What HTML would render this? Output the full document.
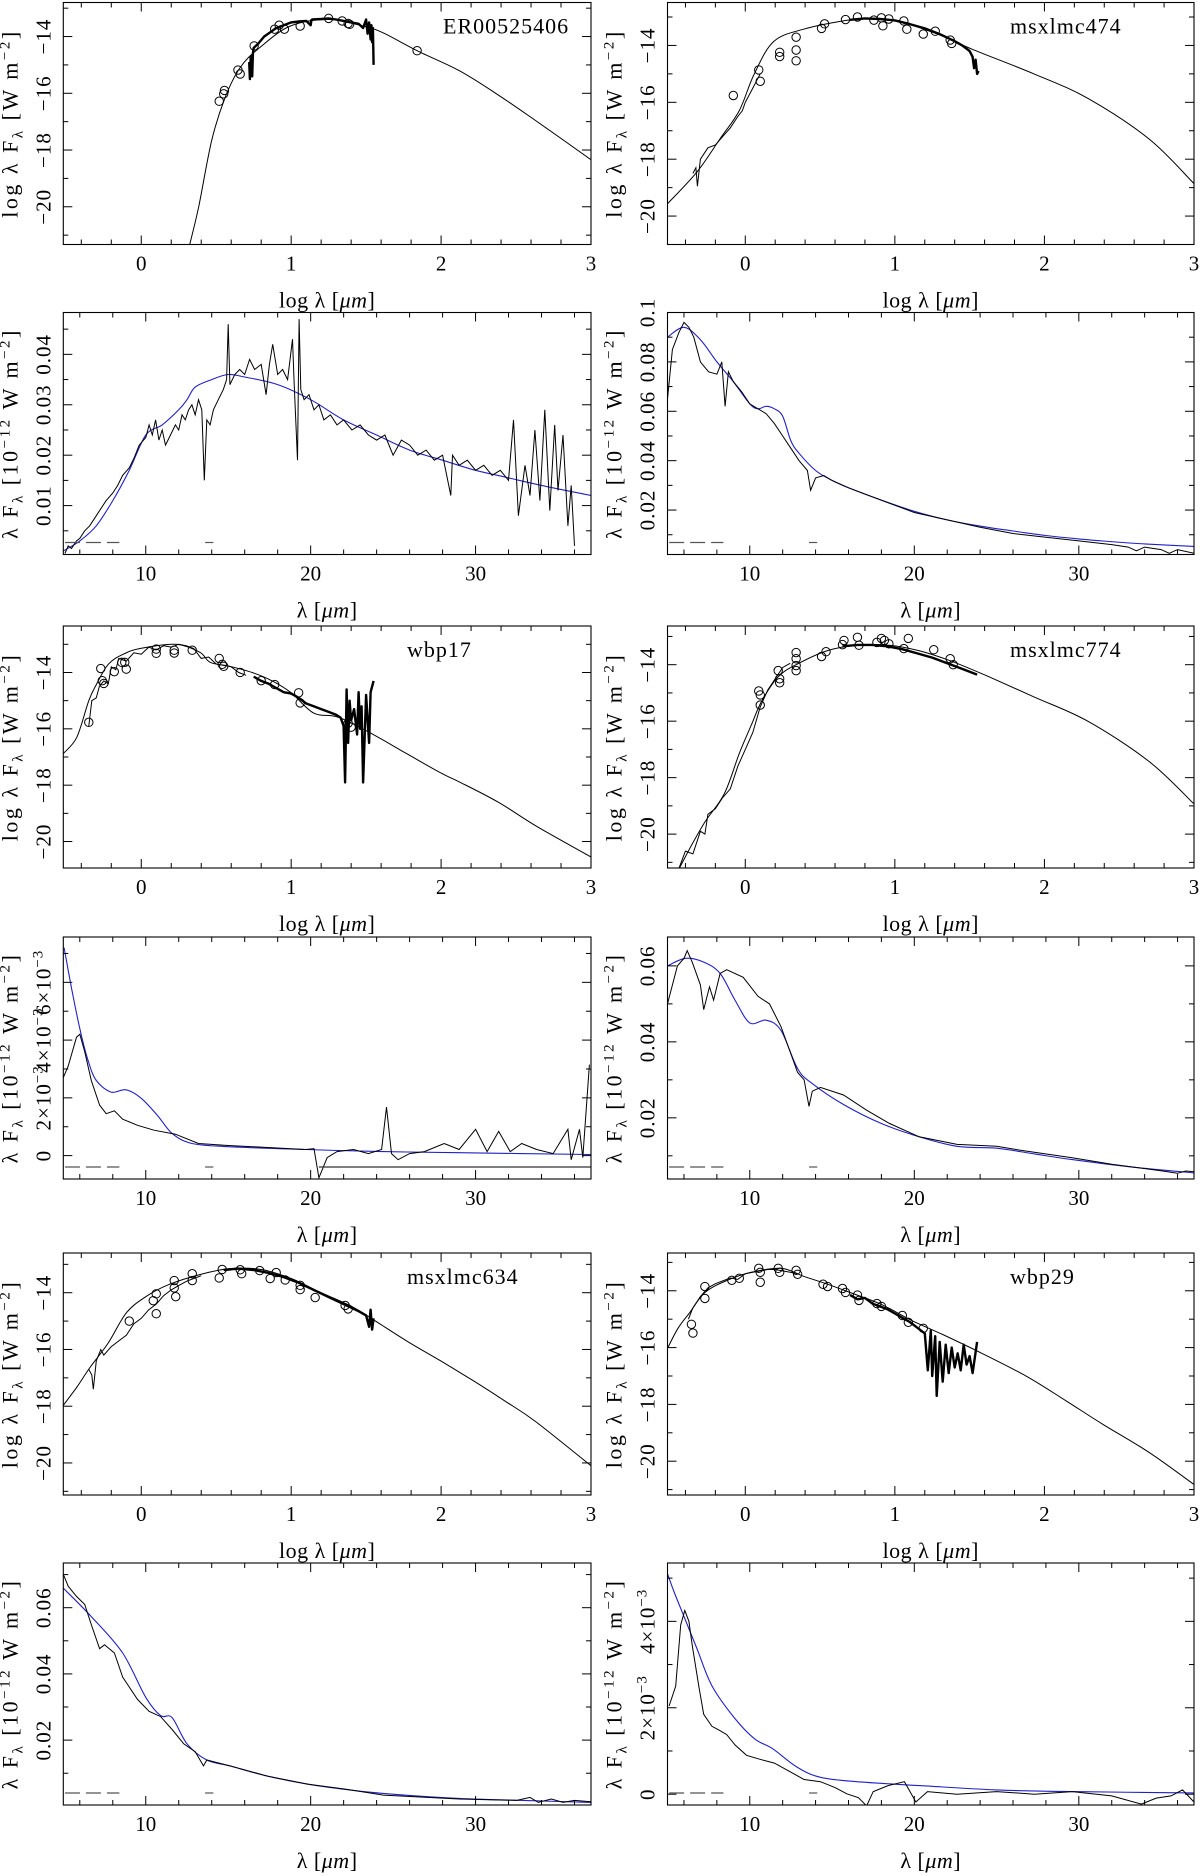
<!DOCTYPE html>
<html><head><meta charset="utf-8"><title>SED panels</title>
<style>
html,body{margin:0;padding:0;background:#fff;}
svg{display:block;}
text{font-family:"Liberation Serif","DejaVu Serif",serif;fill:#000;}
</style></head>
<body>
<svg id="chart" width="1200" height="1876" viewBox="0 0 1200 1876" xmlns="http://www.w3.org/2000/svg"></svg>
<script>
// ---------- data ----------
const P1_MODEL=[[0.32,-21.4],[0.383,-20.0],[0.47,-17.66],[0.56,-16.14],[0.66,-15.09],[0.79,-14.39],[0.995,-13.63],[1.25,-13.4],[1.48,-13.63],[1.61,-13.86],[1.84,-14.5],[2.12,-15.2],[2.37,-16.02],[2.63,-16.96],[3.0,-18.34]];
const P1_SPEC=[[0.72,-14.9],[0.725,-15.5],[0.73,-14.7],[0.74,-15.4],[0.745,-14.6],[0.75,-14.4],[0.78,-14.25],[0.82,-14.0],[0.86,-13.85],[0.9,-13.7],[0.95,-13.6],[1.0,-13.5],[1.05,-13.47],[1.1,-13.45],[1.13,-13.6],[1.135,-13.42],[1.14,-13.4],[1.2,-13.38],[1.25,-13.36],[1.3,-13.4],[1.35,-13.45],[1.4,-13.5],[1.45,-13.55],[1.48,-13.7],[1.5,-13.4],[1.51,-13.9],[1.52,-13.5],[1.53,-14.1],[1.535,-13.6],[1.54,-14.2],[1.545,-13.7],[1.55,-15.0]];
const P1_PHOT=[[0.52,-16.28],[0.55,-16.02],[0.555,-15.9],[0.645,-15.18],[0.66,-15.32],[0.753,-14.33],[0.89,-13.74],[0.92,-13.6],[0.955,-13.74],[1.06,-13.63],[1.25,-13.36],[1.34,-13.45],[1.38,-13.54],[1.39,-13.57],[1.84,-14.5]];
const P2_MODEL=[[-0.52,-19.57],[-0.32,-18.43],[-0.17,-17.29],[-0.04,-16.29],[0.06,-15.0],[0.19,-13.86],[0.39,-13.43],[0.65,-13.14],[0.8,-13.07],[1.01,-13.14],[1.27,-13.57],[1.52,-14.14],[1.93,-15.0],[2.29,-15.86],[2.7,-17.29],[3.0,-18.86]];
const P2_SPEC_THIN=[[-0.35,-18.5],[-0.33,-18.3],[-0.32,-18.95],[-0.3,-18.0],[-0.25,-17.6],[-0.2,-17.5],[-0.15,-17.2],[-0.1,-16.9],[-0.05,-16.5],[-0.02,-16.3],[0.0,-16.0],[0.05,-15.5],[0.1,-15.0]];
const P2_SPEC=[[0.7,-13.1],[0.8,-13.05],[0.9,-13.07],[1.0,-13.12],[1.1,-13.25],[1.2,-13.4],[1.3,-13.6],[1.4,-13.85],[1.45,-14.0],[1.5,-14.2],[1.52,-14.4],[1.53,-14.8],[1.54,-14.5],[1.55,-15.0],[1.56,-14.9]];
const P2_PHOT=[[-0.08,-15.76],[0.09,-14.86],[0.1,-15.26],[0.23,-14.24],[0.23,-14.39],[0.34,-13.71],[0.34,-14.16],[0.34,-14.54],[0.51,-13.4],[0.53,-13.24],[0.67,-13.09],[0.75,-13.0],[0.86,-13.11],[0.91,-13.03],[0.92,-13.31],[0.96,-13.07],[1.06,-13.14],[1.08,-13.43],[1.19,-13.6],[1.27,-13.5],[1.37,-13.81],[1.38,-13.93]];
const P3_OBS=[[5.1,0.0005],[5.3,0.002],[5.5,0.0015],[5.8,0.003],[6.0,0.0035],[6.3,0.005],[6.6,0.006],[7.0,0.008],[7.3,0.0095],[7.6,0.011],[8.0,0.0125],[8.3,0.014],[8.6,0.016],[9.0,0.0175],[9.3,0.0195],[9.6,0.022],[10.0,0.0235],[10.2,0.026],[10.4,0.024],[10.6,0.027],[10.8,0.023],[11.0,0.025],[11.2,0.022],[11.5,0.024],[11.8,0.026],[12.0,0.025],[12.2,0.028],[12.4,0.027],[12.6,0.029],[12.8,0.030],[13.0,0.028],[13.2,0.031],[13.4,0.029],[13.55,0.015],[13.7,0.027],[13.9,0.026],[14.1,0.029],[14.4,0.031],[14.7,0.033],[14.9,0.035],[15.0,0.046],[15.1,0.034],[15.4,0.036],[15.7,0.037],[16.0,0.036],[16.3,0.039],[16.6,0.037],[17.0,0.038],[17.3,0.032],[17.5,0.038],[17.7,0.042],[18.0,0.036],[18.3,0.037],[18.6,0.035],[18.9,0.043],[19.0,0.034],[19.2,0.019],[19.3,0.047],[19.4,0.033],[19.6,0.031],[19.9,0.032],[20.2,0.029],[20.5,0.030],[20.8,0.027],[21.2,0.028],[21.6,0.026],[22.0,0.027],[22.5,0.025],[23.0,0.026],[23.5,0.024],[24.0,0.023],[24.5,0.024],[25.0,0.020],[25.5,0.023],[26.0,0.022],[26.5,0.020],[27.0,0.021],[27.5,0.019],[28.0,0.020],[28.5,0.012],[28.6,0.020],[29.0,0.018],[29.5,0.019],[30.0,0.017],[30.5,0.018],[31.0,0.016],[31.5,0.017],[32.0,0.015],[32.3,0.027],[32.6,0.008],[33.0,0.018],[33.3,0.012],[33.6,0.025],[33.9,0.011],[34.2,0.029],[34.5,0.009],[34.8,0.026],[35.0,0.013],[35.3,0.024],[35.6,0.006],[35.8,0.014],[36.0,0.002]];
const P3_FIT=[[5,0.001],[6,0.003],[7,0.006],[8,0.011],[9,0.017],[10,0.024],[11,0.026],[12,0.029],[12.5,0.031],[13,0.0335],[14,0.035],[15,0.036],[16,0.0355],[18,0.034],[20,0.031],[22,0.027],[24,0.024],[26,0.021],[28,0.019],[30,0.017],[32,0.0155],[34,0.014],[37,0.012]];
const P4_OBS=[[5,0.065],[5.3,0.085],[5.7,0.092],[6.0,0.096],[6.3,0.094],[6.6,0.09],[7,0.08],[7.5,0.076],[8,0.075],[8.3,0.08],[8.5,0.062],[8.7,0.076],[9,0.072],[9.5,0.068],[10,0.063],[10.5,0.061],[11,0.059],[11.5,0.055],[12,0.05],[12.5,0.045],[13,0.04],[13.5,0.036],[13.7,0.028],[14,0.033],[14.5,0.034],[15,0.032],[16,0.029],[18,0.024],[20,0.019],[22,0.016],[24,0.013],[26,0.0105],[28,0.009],[30,0.0075],[32,0.006],[33,0.005],[33.5,0.0035],[34,0.005],[35,0.004],[35.5,0.0025],[36,0.004],[37,0.0025]];
const P4_FIT=[[5,0.09],[6,0.094],[7,0.089],[8,0.08],[9,0.072],[10,0.063],[10.5,0.061],[11,0.062],[11.5,0.061],[12,0.058],[12.5,0.048],[13,0.043],[14,0.036],[15,0.032],[16,0.029],[18,0.024],[20,0.0195],[22,0.016],[24,0.0135],[26,0.0115],[28,0.0097],[30,0.0083],[32,0.0072],[34,0.0063],[37,0.0053]];
const P5_MODEL=[[-0.52,-16.88],[-0.43,-16.3],[-0.35,-15.0],[-0.3,-14.43],[-0.22,-13.71],[-0.12,-13.35],[0,-13.14],[0.23,-13.0],[0.39,-13.28],[0.46,-13.64],[0.59,-13.78],[0.74,-14.0],[0.87,-14.29],[1.0,-14.72],[1.15,-15.44],[1.31,-15.58],[1.51,-16.09],[1.77,-16.88],[2.0,-17.57],[2.12,-17.88],[2.38,-18.6],[2.64,-19.47],[3.0,-20.55]];
const P5_SPEC_THIN=[[-0.35,-15.9],[-0.33,-15.0],[-0.3,-14.9],[-0.28,-14.5],[-0.25,-14.3],[-0.22,-14.4],[-0.2,-13.8],[-0.17,-13.9],[-0.15,-13.5],[-0.1,-13.6],[-0.05,-13.3],[0,-13.35],[0.05,-13.1],[0.1,-13.2],[0.15,-13.05],[0.2,-13.1],[0.25,-13.0],[0.3,-13.05],[0.35,-13.15],[0.4,-13.5],[0.45,-13.45],[0.5,-13.7],[0.55,-13.75],[0.6,-13.8],[0.65,-14.0],[0.7,-14.1]];
const P5_SPEC=[[0.75,-14.15],[0.8,-14.3],[0.85,-14.4],[0.9,-14.55],[0.95,-14.7],[1.0,-14.75],[1.05,-14.9],[1.1,-15.1],[1.15,-15.2],[1.2,-15.3],[1.25,-15.4],[1.3,-15.5],[1.33,-15.6],[1.35,-15.9],[1.36,-17.9],[1.37,-14.6],[1.38,-16.5],[1.39,-15.0],[1.4,-15.7],[1.42,-15.3],[1.44,-16.2],[1.45,-14.7],[1.46,-16.0],[1.47,-15.2],[1.48,-17.9],[1.5,-14.8],[1.52,-16.5],[1.53,-14.7],[1.55,-14.3]];
const P5_PHOT=[[-0.35,-15.77],[-0.27,-13.86],[-0.26,-14.29],[-0.25,-14.39],[-0.18,-13.97],[-0.13,-13.64],[-0.11,-13.64],[-0.1,-13.88],[0.1,-13.17],[0.1,-13.32],[0.22,-13.21],[0.22,-13.31],[0.34,-13.21],[0.52,-13.5],[0.54,-13.71],[0.55,-13.78],[0.66,-14.0],[0.8,-14.29],[0.89,-14.43],[1.05,-14.72],[1.06,-15.08],[1.38,-15.8],[1.4,-15.94]];
const P6_MODEL=[[-0.45,-21.3],[-0.37,-20.5],[-0.27,-19.57],[-0.14,-18.57],[-0.04,-17.14],[0.04,-16.14],[0.11,-15.29],[0.22,-14.43],[0.34,-14.0],[0.55,-13.5],[0.75,-13.31],[0.96,-13.31],[1.16,-13.5],[1.37,-13.86],[1.63,-14.43],[1.93,-15.14],[2.29,-16.0],[2.7,-17.43],[3.0,-18.93]];
const P6_SPEC_THIN=[[-0.45,-21.3],[-0.4,-20.6],[-0.35,-20.7],[-0.3,-19.9],[-0.27,-20.0],[-0.25,-19.3],[-0.2,-19.1],[-0.15,-18.7],[-0.1,-18.4],[-0.05,-17.6],[0,-17.0],[0.05,-16.4],[0.1,-15.5],[0.15,-14.9],[0.2,-14.5],[0.25,-14.1],[0.3,-13.95]];
const P6_SPEC=[[0.65,-13.35],[0.75,-13.3],[0.85,-13.3],[0.95,-13.35],[1.05,-13.45],[1.15,-13.6],[1.25,-13.75],[1.35,-13.95],[1.45,-14.15],[1.55,-14.35]];
const P6_PHOT=[[0.09,-14.93],[0.1,-15.07],[0.1,-15.43],[0.22,-14.21],[0.23,-14.64],[0.23,-14.5],[0.34,-13.57],[0.34,-13.79],[0.34,-14.03],[0.34,-14.21],[0.51,-13.71],[0.54,-13.54],[0.65,-13.29],[0.66,-13.14],[0.75,-13.03],[0.76,-13.31],[0.88,-13.21],[0.91,-13.07],[0.93,-13.14],[0.96,-13.26],[1.09,-13.07],[1.06,-13.43],[1.26,-13.47],[1.37,-13.79],[1.39,-14.0]];
const P7_OBS=[[5,0.0027],[5.3,0.0031],[5.8,0.0041],[6,0.0042],[6.3,0.0036],[6.7,0.0026],[7.2,0.00175],[7.6,0.00145],[8.1,0.00155],[8.6,0.00126],[9.5,0.00105],[10.5,0.00088],[11.8,0.00074],[13.2,0.00042],[15,0.00035],[17.4,0.00028],[19.7,0.00021],[20.2,0.00024],[20.5,-0.00077],[21,-0.00007],[21.6,0.00014],[22.6,0.00021],[23.5,0.00007],[24.3,0.00021],[24.6,0.00168],[24.9,0.00007],[25.3,-0.00014],[26,0.00007],[26.9,0.00014],[28.1,0.00042],[29,0.00021],[30,0.00091],[30.7,0.00014],[31.4,0.00084],[32.1,0.00014],[32.8,0.00042],[33.7,0.00021],[34.7,0.00007],[35.6,0.00091],[35.8,-0.00014],[36.3,0.00091],[36.5,-0.00007],[36.9,0.00315]];
const P7_FIT=[[5.05,0.0072],[5.5,0.0058],[6,0.0044],[6.5,0.0033],[7,0.0026],[7.9,0.0022],[8.8,0.00228],[9.7,0.002],[10.7,0.0014],[11.6,0.00077],[12.8,0.00042],[15,0.00031],[19.7,0.00021],[24.4,0.00014],[29,0.0001],[37,0.00004]];
const P8_OBS=[[5,0.05],[5.6,0.06],[6,0.062],[6.2,0.064],[6.5,0.061],[7,0.055],[7.2,0.0485],[7.55,0.0545],[7.8,0.051],[8.2,0.058],[8.6,0.059],[9.6,0.057],[10.5,0.052],[11.2,0.05],[11.9,0.044],[12.4,0.038],[12.9,0.032],[13.3,0.03],[13.6,0.023],[13.8,0.027],[14.3,0.028],[15.7,0.026],[17.1,0.022],[18.5,0.0185],[20.3,0.015],[22.6,0.013],[25,0.0125],[26.4,0.0115],[29.6,0.0095],[32,0.0078],[35.1,0.006],[36,0.0054],[36.5,0.006],[37,0.0058]];
const P8_FIT=[[5,0.06],[6.1,0.062],[7.2,0.061],[8.2,0.058],[9.1,0.051],[10,0.045],[11,0.0457],[11.9,0.043],[12.9,0.033],[13.8,0.029],[15.7,0.0235],[18,0.0185],[20.3,0.015],[22.6,0.0125],[25,0.012],[27.3,0.0105],[29.6,0.009],[33.3,0.007],[37,0.0055]];
const P9_MODEL=[[-0.52,-17.97],[-0.43,-17.33],[-0.34,-16.62],[-0.22,-15.77],[-0.1,-14.71],[0.03,-14.14],[0.18,-13.72],[0.39,-13.36],[0.59,-13.15],[0.8,-13.18],[1.0,-13.5],[1.2,-14.0],[1.41,-14.5],[1.56,-14.99],[1.77,-15.7],[2.0,-16.41],[2.22,-17.12],[2.43,-17.83],[2.63,-18.54],[3.0,-20.1]];
const P9_SPEC_THIN=[[-0.35,-16.7],[-0.33,-16.9],[-0.32,-17.4],[-0.3,-16.4],[-0.27,-16.0],[-0.25,-16.2],[-0.2,-15.9],[-0.15,-15.7],[-0.1,-15.5],[-0.05,-15.1],[0,-14.9],[0.05,-14.6],[0.1,-14.4],[0.15,-14.1],[0.2,-13.9],[0.25,-13.75],[0.3,-13.6],[0.35,-13.5],[0.4,-13.4]];
const P9_SPEC=[[0.55,-13.2],[0.65,-13.15],[0.75,-13.2],[0.85,-13.3],[0.95,-13.45],[1.05,-13.65],[1.15,-13.9],[1.25,-14.15],[1.35,-14.4],[1.45,-14.65],[1.5,-14.8],[1.52,-15.2],[1.53,-14.6],[1.54,-15.3],[1.55,-14.9]];
const P9_PHOT=[[-0.08,-15.0],[0.08,-14.28],[0.1,-14.74],[0.1,-14.04],[0.22,-13.83],[0.23,-14.14],[0.22,-13.57],[0.34,-13.33],[0.34,-13.57],[0.52,-13.48],[0.54,-13.18],[0.66,-13.19],[0.67,-13.33],[0.79,-13.22],[0.86,-13.5],[0.9,-13.29],[0.96,-13.55],[1.06,-13.74],[1.06,-13.89],[1.16,-14.17],[1.36,-14.45],[1.38,-14.57]];
const P10_MODEL=[[-0.52,-16.03],[-0.45,-15.32],[-0.37,-14.76],[-0.27,-14.06],[-0.12,-13.63],[0.04,-13.35],[0.24,-13.21],[0.39,-13.49],[0.55,-13.77],[0.7,-14.06],[0.91,-14.48],[1.11,-15.04],[1.32,-15.54],[1.57,-16.17],[1.88,-17.01],[2.14,-17.86],[2.39,-18.7],[2.7,-19.69],[3.0,-20.82]];
const P10_SPEC_THIN=[[-0.38,-15.0],[-0.35,-14.6],[-0.3,-14.2],[-0.25,-13.9],[-0.2,-13.75],[-0.15,-13.65],[-0.1,-13.55],[-0.05,-13.6],[0,-13.4],[0.05,-13.35],[0.1,-13.3],[0.15,-13.25],[0.2,-13.25],[0.25,-13.3],[0.3,-13.35],[0.35,-13.4]];
const P10_SPEC=[[0.7,-14.15],[0.75,-14.3],[0.8,-14.25],[0.85,-14.45],[0.9,-14.55],[0.95,-14.65],[1.0,-14.8],[1.05,-14.95],[1.1,-15.1],[1.15,-15.3],[1.2,-15.5],[1.22,-16.8],[1.24,-15.4],[1.25,-17.0],[1.27,-15.6],[1.28,-17.7],[1.3,-15.8],[1.32,-17.2],[1.34,-15.9],[1.36,-16.9],[1.38,-16.0],[1.4,-16.7],[1.42,-16.2],[1.44,-16.8],[1.46,-15.9],[1.48,-16.6],[1.5,-16.3],[1.52,-16.9],[1.55,-15.8]];
const P10_PHOT=[[-0.36,-15.18],[-0.35,-15.49],[-0.27,-13.85],[-0.27,-14.27],[-0.09,-13.63],[-0.04,-13.56],[0.09,-13.21],[0.1,-13.35],[0.1,-13.7],[0.22,-13.21],[0.23,-13.35],[0.34,-13.28],[0.35,-13.42],[0.52,-13.77],[0.55,-13.85],[0.65,-13.92],[0.67,-14.06],[0.75,-14.15],[0.76,-14.34],[0.88,-14.45],[0.91,-14.55],[1.05,-14.87],[1.09,-15.11],[1.19,-15.32]];
const P11_OBS=[[5,0.0701],[5.3,0.0665],[5.8,0.0634],[6.3,0.061],[6.7,0.0549],[7.2,0.0476],[7.5,0.0488],[8.1,0.0463],[8.6,0.039],[9.5,0.0323],[10.2,0.0287],[10.9,0.0271],[11.6,0.0232],[12.3,0.0189],[13,0.0165],[13.5,0.0122],[13.7,0.014],[15.1,0.0122],[17.4,0.0091],[19.8,0.0067],[22.1,0.0052],[24.4,0.0034],[29,0.0022],[32.5,0.0018],[33.3,0.0027],[33.8,0.0012],[34.6,0.0022],[35.3,0.0012],[36,0.0018],[37,0.0014]];
const P11_FIT=[[5,0.0659],[6.7,0.0573],[8.6,0.0463],[10,0.0329],[10.9,0.0274],[11.6,0.0268],[12.5,0.0189],[13.7,0.014],[15.1,0.0122],[17.4,0.0091],[19.8,0.0067],[22.1,0.0051],[24.4,0.0039],[29,0.0024],[33.5,0.0017],[37,0.0012]];
const P12_OBS=[[5.1,0.00204],[5.5,0.0025],[5.8,0.00392],[6.05,0.00425],[6.3,0.004],[6.5,0.00345],[6.9,0.0025],[7.2,0.00185],[7.7,0.00157],[8.2,0.00147],[8.6,0.00138],[9.1,0.00114],[9.8,0.0009],[10.6,0.00081],[11.5,0.00072],[12.4,0.00053],[13.3,0.00034],[14.3,0.00029],[15.2,0.00015],[15.9,0.00001],[16.6,-0.00008],[17.1,-0.00027],[17.5,0.00006],[18.4,0.0002],[19.4,0.00029],[20.1,-0.00018],[20.8,0.00006],[22.6,0.0],[25,0.00006],[27.3,0.0],[29.6,0.00006],[32,-0.00004],[33.8,-0.00023],[34.7,-0.00009],[35.6,-0.00004],[36.3,0.0001],[37,-0.00018]];
const P12_FIT=[[5,0.0051],[5.4,0.00468],[6.1,0.00402],[6.8,0.00336],[7.7,0.00251],[9.1,0.00175],[10.3,0.00128],[11.4,0.00105],[12.9,0.00062],[14.3,0.00039],[16.5,0.00029],[20.3,0.0002],[25,0.0001],[29.6,0.00006],[37,0.00003]];

const LOG_XTICK_LABELS=["0","1","2","3"];
const LOG_YTICK_LABELS=["−14","−16","−18","−20"];
const P3_YTICKS=[0.01,0.02,0.03,0.04];
const P4_YTICKS=[0.02,0.04,0.06,0.08,0.1];
const P8_YTICKS=[0.02,0.04,0.06];
const P11_YTICKS=[0.02,0.04,0.06];
const P7_YTICKS=[0,0.002,0.004,0.006];
const P12_YTICKS=[0,0.002,0.004];
const LIN_XTICK_LABELS=["10","20","30"];

// ---------- layout ----------
const SVGNS="http://www.w3.org/2000/svg";
const svg=document.getElementById('chart');
const COLS=[[63.3,591],[667.5,1194]];
const TOPS=[2.5,312.5,626,937,1253,1563];
const PH=242;

function el(tag,attrs,parent){const e=document.createElementNS(SVGNS,tag);for(const k in attrs)e.setAttribute(k,attrs[k]);(parent||svg).appendChild(e);return e;}
function pathFrom(pts,sx,sy){return pts.map((p,i)=>(i?'L':'M')+sx(p[0]).toFixed(1)+' '+sy(p[1]).toFixed(1)).join(' ');}
function smoothFrom(pts,sx,sy){
  const P=pts.map(p=>[sx(p[0]),sy(p[1])]);
  let d='M'+P[0][0].toFixed(1)+' '+P[0][1].toFixed(1);
  for(let i=0;i<P.length-1;i++){
    const p0=P[i-1]||P[i],p1=P[i],p2=P[i+1],p3=P[i+2]||P[i+1];
    const c1=[p1[0]+(p2[0]-p0[0])/6,p1[1]+(p2[1]-p0[1])/6];
    const c2=[p2[0]-(p3[0]-p1[0])/6,p2[1]-(p3[1]-p1[1])/6];
    d+=' C'+c1[0].toFixed(1)+' '+c1[1].toFixed(1)+' '+c2[0].toFixed(1)+' '+c2[1].toFixed(1)+' '+p2[0].toFixed(1)+' '+p2[1].toFixed(1);
  }
  return d;
}

let clipId=0;
function drawPanel(cfg){
  const [x0,x1]=COLS[cfg.col];const y0=TOPS[cfg.row];const y1=y0+PH;
  const sx=v=>x0+(v-cfg.xmin)/(cfg.xmax-cfg.xmin)*(x1-x0);
  const sy=v=>y1-(v-cfg.ymin)/(cfg.ymax-cfg.ymin)*(y1-y0);
  const g=el('g',{});
  
  
  const cid='clip'+(clipId++);
  const cp=el('clipPath',{id:cid},g);el('rect',{x:x0,y:y0,width:x1-x0,height:y1-y0},cp);
  const plot=el('g',{'clip-path':'url(#'+cid+')'},g);
  
  
  const tk=el('g',{stroke:'#000','stroke-width':1},g);
  
  
  const eps=1e-6;
  for(let v=Math.ceil(cfg.xmin/cfg.xminor-eps)*cfg.xminor;v<=cfg.xmax+eps;v+=cfg.xminor){
    const maj=Math.abs(v/cfg.xmajor-Math.round(v/cfg.xmajor))<1e-4;const L=maj?9:5;const X=sx(v);
    el('line',{x1:X,x2:X,y1:y1,y2:y1-L},tk);el('line',{x1:X,x2:X,y1:y0,y2:y0+L},tk);
  }
  for(let v=Math.ceil(cfg.ymin/cfg.yminor-eps)*cfg.yminor;v<=cfg.ymax+eps;v+=cfg.yminor){
    const maj=Math.abs(v/cfg.ymajor-Math.round(v/cfg.ymajor))<1e-4;const L=maj?9:5;const Y=sy(v);
    el('line',{x1:x0,x2:x0+L,y1:Y,y2:Y},tk);el('line',{x1:x1,x2:x1-L,y1:Y,y2:Y},tk);
  }
  if(cfg.fit){const p=el('path',{d:smoothFrom(cfg.fit,sx,sy),fill:'none',stroke:'#2020c8','stroke-width':1.1},plot);
    }
  if(cfg.model){const p=el('path',{d:smoothFrom(cfg.model,sx,sy),fill:'none',stroke:'#000','stroke-width':1},plot);
    }
  if(cfg.thin){const p=el('path',{d:pathFrom(cfg.thin,sx,sy),fill:'none',stroke:'#000','stroke-width':1},plot);
    }
  if(cfg.obs){const p=el('path',{d:pathFrom(cfg.obs,sx,sy),fill:'none',stroke:'#000','stroke-width':1},plot);
    }
  if(cfg.spec){const p=el('path',{d:pathFrom(cfg.spec,sx,sy),fill:'none',stroke:'#000','stroke-width':2.4,'stroke-linejoin':'round'},plot);
    }
  if(cfg.phot){const pg=el('g',{fill:'none',stroke:'#000','stroke-width':1},plot);
    
    cfg.phot.forEach(p=>{const c=el('circle',{cx:sx(p[0]),cy:sy(p[1]),r:4.2},pg);
      });}
  if(cfg.lin){
    const yb=y1-12;
    const m=el('g',{stroke:'#555','stroke-width':1.2},plot);
    
    el('line',{x1:sx(5.1),x2:sx(8.4),y1:yb,y2:yb,'stroke-dasharray':'15 6'},m);
    el('line',{x1:sx(13.6),x2:sx(14.1),y1:yb,y2:yb},m);
    if(cfg.zeroLine){el('line',{x1:sx(20.5),x2:sx(37),y1:yb,y2:yb,stroke:'#333'},m);}
  }
  const fr=el('rect',{x:x0,y:y0,width:x1-x0,height:y1-y0,fill:'none',stroke:'#000','stroke-width':1.1},g);
  
  cfg.xlabels.forEach((s,i)=>{const t=el('text',{x:sx(cfg.xlabelVals[i]),y:y1+26,'font-size':21,'text-anchor':'middle'},g);
    t.textContent=s;});
  cfg.ylabelVals.forEach((v,i)=>{const X=x0-13,Y=sy(v);
    const t=el('text',{x:X,y:Y,'font-size':21,'text-anchor':'middle','letter-spacing':1,transform:`rotate(-90 ${X} ${Y})`},g);
    
    const s=cfg.ylabels[i];
    if(s.indexOf('e')>=0){const mant=s.split('e')[0];t.appendChild(document.createTextNode(mant+'×10'));
      const sp=el('tspan',{dy:-8,'font-size':15},t);sp.textContent='−3';}
    else t.textContent=s;});
  const xt=el('text',{x:(x0+x1)/2,y:y1+63,'font-size':22,'text-anchor':'middle','letter-spacing':0.5},g);
  
  xt.appendChild(document.createTextNode(cfg.lin?'λ [':'log λ ['));
  const mu=el('tspan',{'font-style':'italic'},xt);mu.textContent='μm';xt.appendChild(document.createTextNode(']'));
  const YX=x0-46,YY=(y0+y1)/2;
  const yt=el('text',{x:YX,y:YY,'font-size':22,'text-anchor':'middle','letter-spacing':2.5,transform:`rotate(-90 ${YX} ${YY})`},g);
  
  yt.appendChild(document.createTextNode(cfg.lin?'λ F':'log λ F'));
  const sub=el('tspan',{dy:5,'font-size':15},yt);sub.textContent='λ';
  if(cfg.lin){const a=el('tspan',{dy:-5},yt);a.textContent=' [10';const b=el('tspan',{dy:-8,'font-size':15},yt);b.textContent='−12';
    const c=el('tspan',{dy:8},yt);c.textContent=' W m';}
  else{const a=el('tspan',{dy:-5},yt);a.textContent=' [W m';}
  const e2=el('tspan',{dy:-8,'font-size':15},yt);e2.textContent='−2';const e3=el('tspan',{dy:8},yt);e3.textContent=']';
  if(cfg.label){const t=el('text',{x:cfg.labelX,y:y0+31,'font-size':22,'letter-spacing':1},g);t.textContent=cfg.label;
    }
}

const LOGX={xmin:-0.52,xmax:3,xminor:0.2,xmajor:1,yminor:1,ymajor:2,xlabels:LOG_XTICK_LABELS,xlabelVals:[0,1,2,3],ylabels:LOG_YTICK_LABELS,ylabelVals:[-14,-16,-18,-20]};
const LINX={lin:true,xmin:5,xmax:37,xminor:2,xmajor:10,xlabels:LIN_XTICK_LABELS,xlabelVals:[10,20,30]};
function fmt(v){return String(v);}
function sci(v){return v===0?'0':(v*1000)+'e';}

const panels=[
 Object.assign({},LOGX,{name:'panel-er00525406-sed',col:0,row:0,ymin:-21.33,ymax:-12.8,model:P1_MODEL,spec:P1_SPEC,phot:P1_PHOT,label:'ER00525406',labelX:443}),
 Object.assign({},LOGX,{name:'panel-msxlmc474-sed',col:1,row:0,ymin:-21.0,ymax:-12.49,model:P2_MODEL,thin:P2_SPEC_THIN,spec:P2_SPEC,phot:P2_PHOT,label:'msxlmc474',labelX:1010}),
 Object.assign({},LINX,{name:'panel-er00525406-spectrum',col:0,row:1,ymin:0.0003,ymax:0.0483,yminor:0.005,ymajor:0.01,obs:P3_OBS,fit:P3_FIT,ylabelVals:P3_YTICKS,ylabels:P3_YTICKS.map(fmt)}),
 Object.assign({},LINX,{name:'panel-msxlmc474-spectrum',col:1,row:1,ymin:0.002,ymax:0.1,yminor:0.01,ymajor:0.02,obs:P4_OBS,fit:P4_FIT,ylabelVals:P4_YTICKS,ylabels:P4_YTICKS.map(fmt)}),
 Object.assign({},LOGX,{name:'panel-wbp17-sed',col:0,row:2,ymin:-20.94,ymax:-12.35,model:P5_MODEL,thin:P5_SPEC_THIN,spec:P5_SPEC,phot:P5_PHOT,label:'wbp17',labelX:407}),
 Object.assign({},LOGX,{name:'panel-msxlmc774-sed',col:1,row:2,ymin:-21.2,ymax:-12.63,model:P6_MODEL,thin:P6_SPEC_THIN,spec:P6_SPEC,phot:P6_PHOT,label:'msxlmc774',labelX:1010}),
 Object.assign({},LINX,{name:'panel-wbp17-spectrum',col:0,row:3,ymin:-0.00081,ymax:0.00757,yminor:0.001,ymajor:0.002,obs:P7_OBS,fit:P7_FIT,zeroLine:true,ylabelVals:P7_YTICKS,ylabels:P7_YTICKS.map(sci)}),
 Object.assign({},LINX,{name:'panel-msxlmc774-spectrum',col:1,row:3,ymin:0.0039,ymax:0.0676,yminor:0.01,ymajor:0.02,obs:P8_OBS,fit:P8_FIT,ylabelVals:P8_YTICKS,ylabels:P8_YTICKS.map(fmt)}),
 Object.assign({},LOGX,{name:'panel-msxlmc634-sed',col:0,row:4,ymin:-21.13,ymax:-12.6,model:P9_MODEL,thin:P9_SPEC_THIN,spec:P9_SPEC,phot:P9_PHOT,label:'msxlmc634',labelX:407}),
 Object.assign({},LOGX,{name:'panel-wbp29-sed',col:1,row:4,ymin:-21.19,ymax:-12.67,model:P10_MODEL,thin:P10_SPEC_THIN,spec:P10_SPEC,phot:P10_PHOT,label:'wbp29',labelX:1010}),
 Object.assign({},LINX,{name:'panel-msxlmc634-spectrum',col:0,row:5,ymin:0.0004,ymax:0.0735,yminor:0.01,ymajor:0.02,obs:P11_OBS,fit:P11_FIT,ylabelVals:P11_YTICKS,ylabels:P11_YTICKS.map(fmt)}),
 Object.assign({},LINX,{name:'panel-wbp29-spectrum',col:1,row:5,ymin:-0.00025,ymax:0.00535,yminor:0.001,ymajor:0.002,obs:P12_OBS,fit:P12_FIT,ylabelVals:P12_YTICKS,ylabels:P12_YTICKS.map(sci)})
];
panels.forEach(drawPanel);
</script>
</body></html>
